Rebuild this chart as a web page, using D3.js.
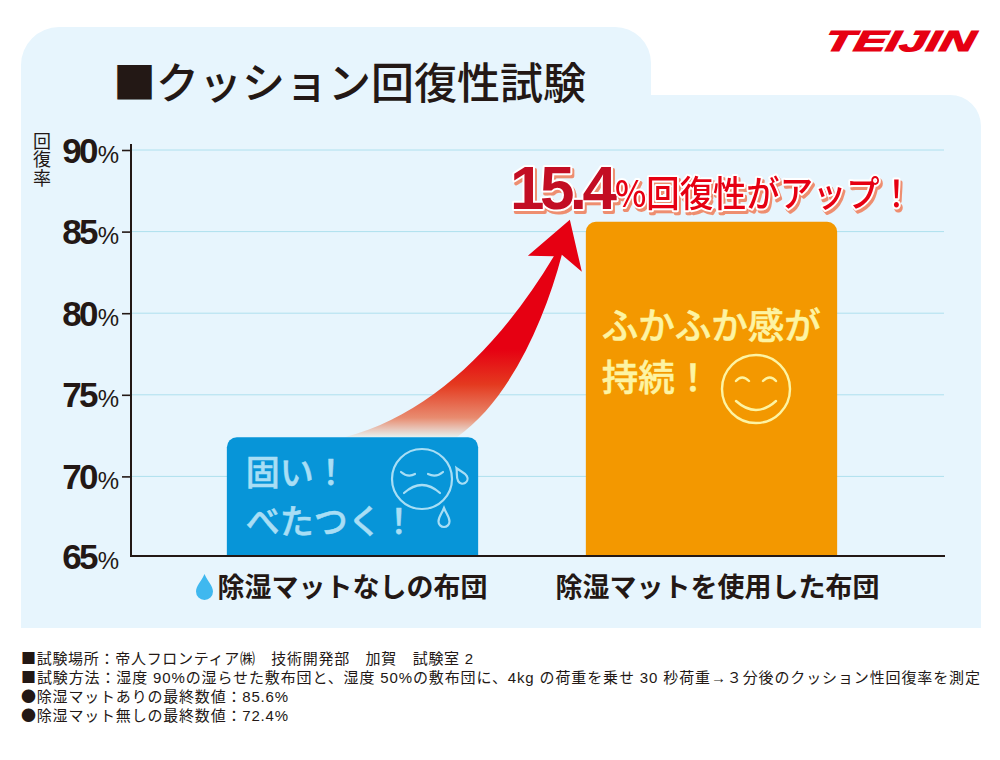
<!DOCTYPE html>
<html lang="ja"><head><meta charset="utf-8">
<script src="https://cdnjs.cloudflare.com/ajax/libs/d3/7.8.5/d3.min.js"></script>
<style>
html,body{margin:0;padding:0;background:#fff}
svg{display:block}
text{font-family:"Noto Sans CJK JP","Noto Sans",sans-serif}
.num{font-family:"Liberation Sans",Arial,sans-serif}
.note{font-family:"Liberation Sans","Noto Sans CJK JP",sans-serif}
.mark{font-family:"Noto Sans CJK JP",sans-serif}
.pop{paint-order:stroke;stroke:#fff;stroke-linejoin:round;filter:drop-shadow(2.5px 3px 0 #ee8e70)}
</style></head><body>
<svg id="c" width="1000" height="760"></svg>
<script>
const categories = ["除湿マットなしの布団", "除湿マットを使用した布団"];
const values = [72.4, 85.6];
const barColors = ["#0795d8", "#f39800"];
const yTicks = [65, 70, 75, 80, 85, 90];
const titleText = "■クッション回復性試験";
const yAxisLabel = "回復率";
const calloutNumber = "15.4";
const calloutText = "%回復性がアップ！";
const noteLines = [
  "■試験場所：帝人フロンティア㈱　技術開発部　加賀　試験室 2",
  "■試験方法：湿度 90%の湿らせた敷布団と、湿度 50%の敷布団に、4kg の荷重を乗せ 30 秒荷重→３分後のクッション性回復率を測定",
  "●除湿マットありの最終数値：85.6%",
  "●除湿マット無しの最終数値：72.4%"
];
const noteWidths = [452, 959, 267, 267];
const barNotes = [["固い！", "べたつく！"], ["ふかふか感が", "持続！"]];

const ink = "#231815", panel = "#e7f5fd", paleBlue = "#a8def5", paleYellow = "#fdf4a3", red = "#e60012";
const svg = d3.select("#c");

// panel with tab
svg.append("path").attr("fill", panel).attr("d",
  "M21,628V65A38,38 0 0 1 59,27H615A36,36 0 0 1 651,63V95H950A31,31 0 0 1 981,126V628Z");

// logo
svg.append("text").attr("class","num").attr("x",0).attr("y",0)
  .attr("transform","translate(823,51) skewX(-12)")
  .attr("textLength",150).attr("lengthAdjust","spacingAndGlyphs")
  .attr("font-size",29).attr("font-weight",700).attr("font-style","italic")
  .attr("fill",red).attr("stroke",red).attr("stroke-width",1.2).text("TEIJIN");

// title
svg.append("text").attr("x",113).attr("y",98.5).attr("font-size",43).attr("font-weight",500)
  .attr("fill",ink).text(titleText);

// scales
const y = d3.scaleLinear().domain([65,90]).range([558,150]);
const x = d3.scaleBand().domain(categories).range([131,933]).paddingInner(0.3).paddingOuter(0.267);
const bw = x.bandwidth();
const baseY = y(65) - 2; // the drawn baseline sits just above the 65% position

// grid
svg.append("g").selectAll("line").data(yTicks.filter(t=>t>65)).join("line")
  .attr("x1",131).attr("x2",944).attr("y1",d=>y(d)).attr("y2",d=>y(d))
  .attr("stroke","#aee0ee").attr("stroke-width",1);

// gradient for arrow
const defs = svg.append("defs");
const grad = defs.append("linearGradient").attr("id","arrowGrad")
  .attr("gradientUnits","userSpaceOnUse").attr("x1",0).attr("x2",0)
  .attr("y1",y(values[0])).attr("y2",y(77.8));
[[0,"#e8f1f0"],[0.22,"#e88c70"],[0.6,"#e4391f"],[1,red]].forEach(([o,c])=>
  grad.append("stop").attr("offset",o).attr("stop-color",c));

// arrow anchored on the two bars
const ax0 = x(categories[0]), ax1 = x(categories[1]), yLo = y(values[0]), yHi = y(values[1]);
const arrow = d3.path();
arrow.moveTo(ax0+118, yLo);
arrow.bezierCurveTo(ax0+203, yLo-22, ax0+273, yLo-91, ax0+327, yLo-181);
arrow.lineTo(ax0+301, yHi+34);
arrow.lineTo(ax1-16, yHi-2);
arrow.lineTo(ax1-4, yHi+50);
arrow.lineTo(ax1-24, yHi+33);
arrow.bezierCurveTo(ax1-41, yHi+98, ax1-76, yHi+178, ax1-129, yLo);
arrow.closePath();
svg.append("path").attr("d",arrow.toString()).attr("fill","url(#arrowGrad)");

// bars
const rr = 10;
svg.append("g").selectAll("path").data(categories).join("path")
  .attr("fill",(d,i)=>barColors[i])
  .attr("d",(d,i)=>{
    const p=d3.path(), l=x(d), r=l+bw, t=y(values[i]), b=baseY;
    p.moveTo(l,b); p.lineTo(l,t+rr); p.arcTo(l,t,l+rr,t,rr); p.lineTo(r-rr,t); p.arcTo(r,t,r,t+rr,rr); p.lineTo(r,b); p.closePath();
    return p.toString();
  });

// y axis
const axis = svg.append("g").attr("transform","translate(131,0)")
  .call(d3.axisLeft(y).tickValues(yTicks).tickSize(9).tickPadding(3).tickFormat(""));
axis.select(".domain").remove();
axis.selectAll(".tick line").attr("stroke",ink).attr("stroke-width",1.6);
axis.selectAll(".tick").filter(d=>d===65).select("line").remove();
axis.selectAll(".tick text").each(function(d){
  const t=d3.select(this).text(null).attr("class","num").attr("x",-12).attr("dy",null).attr("y",d===65?10:12)
    .attr("text-anchor","end").attr("fill",ink);
  t.append("tspan").attr("font-size",35).attr("font-weight",700).attr("letter-spacing",-2.8).text(d);
  t.append("tspan").attr("font-size",24).attr("dx",2).text("%");
});
svg.append("line").attr("x1",131).attr("x2",131).attr("y1",144).attr("y2",baseY+1).attr("stroke",ink).attr("stroke-width",2);
svg.append("line").attr("x1",130).attr("x2",945).attr("y1",baseY).attr("y2",baseY).attr("stroke",ink).attr("stroke-width",2);

// y label, set vertically as one text
svg.append("text").attr("x",42).attr("y",132).style("writing-mode","vertical-rl")
  .attr("font-size",18).attr("letter-spacing",0.5).attr("fill",ink).text(yAxisLabel);

// category labels
svg.append("g").selectAll("text").data(categories).join("text")
  .attr("x",d=>x(d)+bw/2).attr("y",597)
  .attr("text-anchor","middle").attr("font-size",27).attr("font-weight",700)
  .attr("fill",ink)
  .attr("dx",(d,i)=>i===0?0:6)
  .text(d=>d);

// drop before first label
const drop = (cx,t,w,h)=>`M${cx},${t}C${cx+w*0.2},${t+h*0.3} ${cx+w/2},${t+h*0.45} ${cx+w/2},${t+h-w/2}A${w/2},${w/2} 0 0 1 ${cx-w/2},${t+h-w/2}C${cx-w/2},${t+h*0.45} ${cx-w*0.2},${t+h*0.3} ${cx},${t}Z`;
svg.append("path").attr("d",drop(204.5,574,17,26)).attr("fill","#3fb8ef");

// callout
svg.append("text").attr("class","num pop").attr("x",510).attr("y",209).attr("font-size",62).attr("font-weight",700)
  .attr("letter-spacing",-4.6).attr("fill","#c30d23").attr("stroke-width",4).text(calloutNumber);
svg.append("text").attr("class","pop").attr("x",615).attr("y",207).attr("font-size",36).attr("font-weight",500)
  .attr("textLength",298).attr("lengthAdjust","spacingAndGlyphs").attr("fill",red).attr("stroke-width",4).text(calloutText);

// notes in bars
const noteOffsets = [[[19,485],[19,534]],[[16,339],[16,391]]];
const noteSizes = [34, 36.5];
categories.forEach((c,i)=>{
  barNotes[i].forEach((s,j)=>{
    svg.append("text").attr("x",x(c)+noteOffsets[i][j][0]).attr("y",noteOffsets[i][j][1])
      .attr("font-size",noteSizes[i]).attr("font-weight",500)
      .attr("fill",i===0?paleBlue:paleYellow).attr("stroke",i===0?paleBlue:paleYellow).attr("stroke-width",0.5)
      .text(s);
  });
});

// faces
const sad = svg.append("g").attr("transform","translate(422,479)").attr("fill","none").attr("stroke",paleBlue).attr("stroke-width",2.2).attr("stroke-linecap","round");
sad.append("circle").attr("r",30);
sad.append("path").attr("d","M-21,-7Q-14,-1 -7,-5M6,-5Q14,-1 21,-7M-18,14Q0,-2 18,14");
svg.append("path").attr("d",drop(444,508,11,19)).attr("fill","none").attr("stroke",paleBlue).attr("stroke-width",2.2);
svg.append("path").attr("d",drop(461,467,10,17)).attr("fill","none").attr("stroke",paleBlue).attr("stroke-width",2.2).attr("transform","rotate(-30 461 476)");

const happy = svg.append("g").attr("transform","translate(756,389)").attr("fill","none").attr("stroke",paleYellow).attr("stroke-width",2.4).attr("stroke-linecap","round");
happy.append("circle").attr("r",34);
happy.append("path").attr("d","M-20,-8Q-14,-15 -7,-8M7,-8Q14,-15 20,-8M-20,12Q0,30 20,12");

// footnotes: leading ■/● always from the CJK face so they keep full width
svg.append("g").selectAll("text").data(noteLines).join("text").attr("class","note")
  .attr("x",21).attr("y",(d,i)=>663.5+i*19.2).attr("font-size",15).attr("fill",ink)
  .attr("textLength",(d,i)=>noteWidths[i]).attr("lengthAdjust","spacing")
  .each(function(d){
    const t=d3.select(this);
    t.append("tspan").attr("class","mark").text(d.slice(0,1));
    t.append("tspan").text(d.slice(1));
  });
</script></body></html>
